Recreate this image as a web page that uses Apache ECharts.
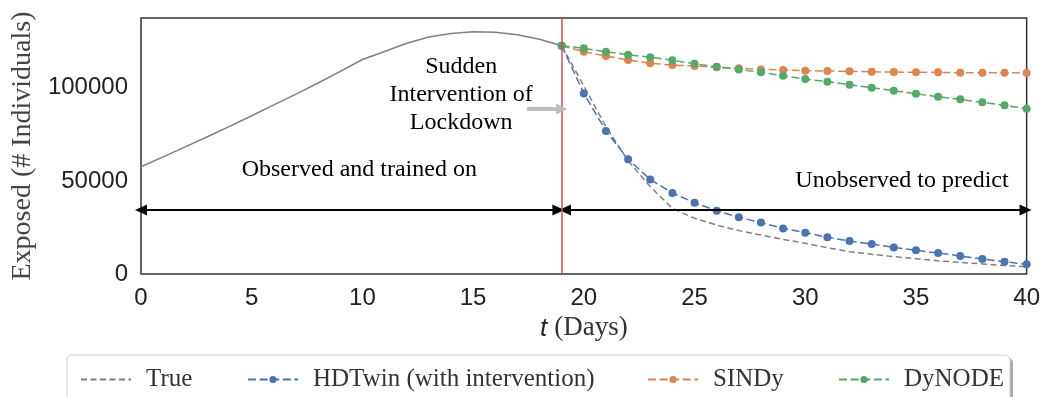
<!DOCTYPE html>
<html>
<head>
<meta charset="utf-8">
<script src="https://cdn.jsdelivr.net/npm/echarts@6/dist/echarts.min.js"></script>
<style>html,body{margin:0;padding:0;background:#fff;}#c{width:1043px;height:397px;}</style>
</head>
<body>
<div id="c"></div>
<script>
// ---- data ----
const obsDays = [0,1,2,3,4,5,6,7,8,9,10,11,12,13,14,15,16,17,18,19];
const trueObserved = [57600,62900,68300,73700,79300,85000,90800,96600,102600,108800,115200,119500,123900,127300,129200,130100,129800,128500,126100,122600];
const predDays = [19,20,21,22,23,24,25,26,27,28,29,30,31,32,33,34,35,36,37,38,39,40];
const trueFuture = [122600,101000,79100,60800,46900,35300,29900,26300,23300,20900,18600,16500,14100,12000,10600,9300,8200,7100,6200,5400,4600,3900];
const hdtwin = [122600,97000,76800,61600,50800,43500,38300,34000,30500,27600,24500,22200,19700,17700,16100,14300,12700,11300,9700,8100,6600,5200];
const sindy = [122600,119400,117100,114900,113200,112200,111700,111000,110500,109900,109600,109200,109000,108900,108600,108500,108300,108300,108100,108100,108100,107900];
const dynode = [122600,121200,119400,117800,116400,114800,112900,111300,109900,108300,106500,104700,103300,101700,100100,98400,96800,95200,93800,92200,90600,88800];
const yTicks = [0, 50000, 100000];
const interventionDay = 19;
const labels = {
  trueName: 'True',
  hd: 'HDTwin (with intervention)',
  sindy: 'SINDy',
  dynode: 'DyNODE'
};

const zip = (xs, ys) => xs.map((x, i) => [x, ys[i]]);
const SERIF = '"Liberation Serif", "DejaVu Serif", serif';
const SANS = '"Liberation Sans", Arial, sans-serif';
const dashed = [8, 3.6];
const GRAY = '#808080', BLUE = '#4c72b0', ORANGE = '#dd8452', GREEN = '#55a868';

const chart = echarts.init(document.getElementById('c'), null, {renderer: 'canvas'});

function predSeries(name, data, color) {
  return {
    name: name, type: 'line', data: zip(predDays, data),
    symbol: 'circle', symbolSize: 8, showSymbol: true,
    itemStyle: {color: color},
    lineStyle: {color: color, width: 1.5, type: dashed},
    animation: false, z: 3
  };
}

const legendBase = {
  top: 362, itemWidth: 50, itemHeight: 9, orient: 'horizontal',
  textStyle: {fontFamily: SERIF, fontSize: 25, color: '#333', padding: [0, 0, 0, 10]}
};

const option = {
  animation: false,
  grid: {left: 141, right: 14, top: 18, bottom: 123, show: true, borderColor: '#333', borderWidth: 1.5, backgroundColor: 'transparent'},
  xAxis: {
    type: 'value', min: 0, max: 40, interval: 5,
    axisLine: {show: false}, axisTick: {show: false}, splitLine: {show: false},
    axisLabel: {fontFamily: SANS, fontSize: 24, color: '#222', margin: 12},
    name: '{t|t}{d|(Days)}', nameLocation: 'middle', nameGap: 38,
    nameTextStyle: {rich: {
      t: {fontFamily: SANS, fontStyle: 'italic', fontSize: 26, color: '#222'},
      d: {fontFamily: SERIF, fontSize: 27, color: '#333', padding: [0, 0, 0, 7]}
    }}
  },
  yAxis: {
    type: 'value', min: 0, max: 137500, interval: 50000,
    axisLine: {show: false}, axisTick: {show: false}, splitLine: {show: false},
    axisLabel: {fontFamily: SANS, fontSize: 24, color: '#222', margin: 13, padding: [4, 0, 0, 0],
      formatter: v => (yTicks.indexOf(v) >= 0 ? String(v) : '')},
    name: 'Exposed (# Individuals)', nameLocation: 'middle', nameGap: 96,
    nameTextStyle: {fontFamily: SERIF, fontSize: 28, color: '#444'}
  },
  legend: [
    Object.assign({}, legendBase, {left: 75, data: [{name: labels.trueName, itemStyle: {opacity: 0}}]}),
    Object.assign({}, legendBase, {left: 242, data: [labels.hd]}),
    Object.assign({}, legendBase, {left: 642, data: [labels.sindy]}),
    Object.assign({}, legendBase, {left: 833, data: [labels.dynode]})
  ],
  graphic: [
    {type: 'rect', shape: {x: 70, y: 358, width: 943, height: 60, r: 5}, style: {fill: '#aaa'}, z: -2, silent: true},
    {type: 'rect', shape: {x: 67, y: 355, width: 943, height: 60, r: 5}, style: {fill: '#fff', stroke: '#ccc', lineWidth: 1}, z: -1, silent: true}
  ],
  series: [
    {
      name: 'Observed', type: 'line', data: zip(obsDays, trueObserved),
      symbol: 'none', lineStyle: {color: GRAY, width: 1.5}, itemStyle: {color: GRAY}, z: 2,
      markLine: {
        silent: true, animation: false,
        data: [
          [{coord: [0, 34400], symbol: 'triangle'}, {coord: [18.85, 34400], symbol: 'triangle'}],
          [{coord: [19.15, 34400], symbol: 'triangle'}, {coord: [39.95, 34400], symbol: 'triangle'}]
        ],
        symbolSize: [11, 12],
        lineStyle: {color: '#000', width: 2, type: 'solid'},
        label: {show: false}
      },
      markPoint: {
        silent: true, animation: false, symbol: 'circle', symbolSize: 0,
        label: {show: true, position: 'inside', fontFamily: SERIF, fontSize: 24, color: '#000', lineHeight: 28, align: 'center', verticalAlign: 'middle'},
        data: [
          {coord: [14.46, 96100], value: 0, label: {formatter: 'Sudden\nIntervention of\nLockdown'}},
          {coord: [9.86, 56000], value: 0, label: {formatter: 'Observed and trained on'}},
          {coord: [34.37, 50000], value: 0, label: {formatter: 'Unobserved to predict'}}
        ]
      }
    },
    {
      name: labels.trueName, type: 'line', data: zip(predDays, trueFuture),
      symbol: 'none', lineStyle: {color: GRAY, width: 1.5, type: [6, 3.5]}, itemStyle: {color: GRAY}, z: 2,
      markLine: {
        silent: true, animation: false,
        data: [
          [{coord: [interventionDay, 0], symbol: 'none'}, {coord: [interventionDay, 137500], symbol: 'none'}],
          [{coord: [17.43, 88600], symbol: 'none'}, {coord: [19, 88600], symbol: 'triangle', symbolSize: [11, 11]}]
        ],
        label: {show: false},
        lineStyle: {type: 'solid'}
      }
    },
    predSeries(labels.hd, hdtwin, BLUE),
    predSeries(labels.sindy, sindy, ORANGE),
    predSeries(labels.dynode, dynode, GREEN)
  ]
};
option.series[1].markLine.data[0][0].lineStyle = {color: '#d4505a', width: 1.5, type: 'solid'};
option.series[1].markLine.data[1][0].lineStyle = {color: '#bdbdbd', width: 4, type: 'solid'};
option.series[1].markLine.data[1][1].itemStyle = {color: '#bdbdbd'};
chart.setOption(option);
</script>
</body>
</html>
